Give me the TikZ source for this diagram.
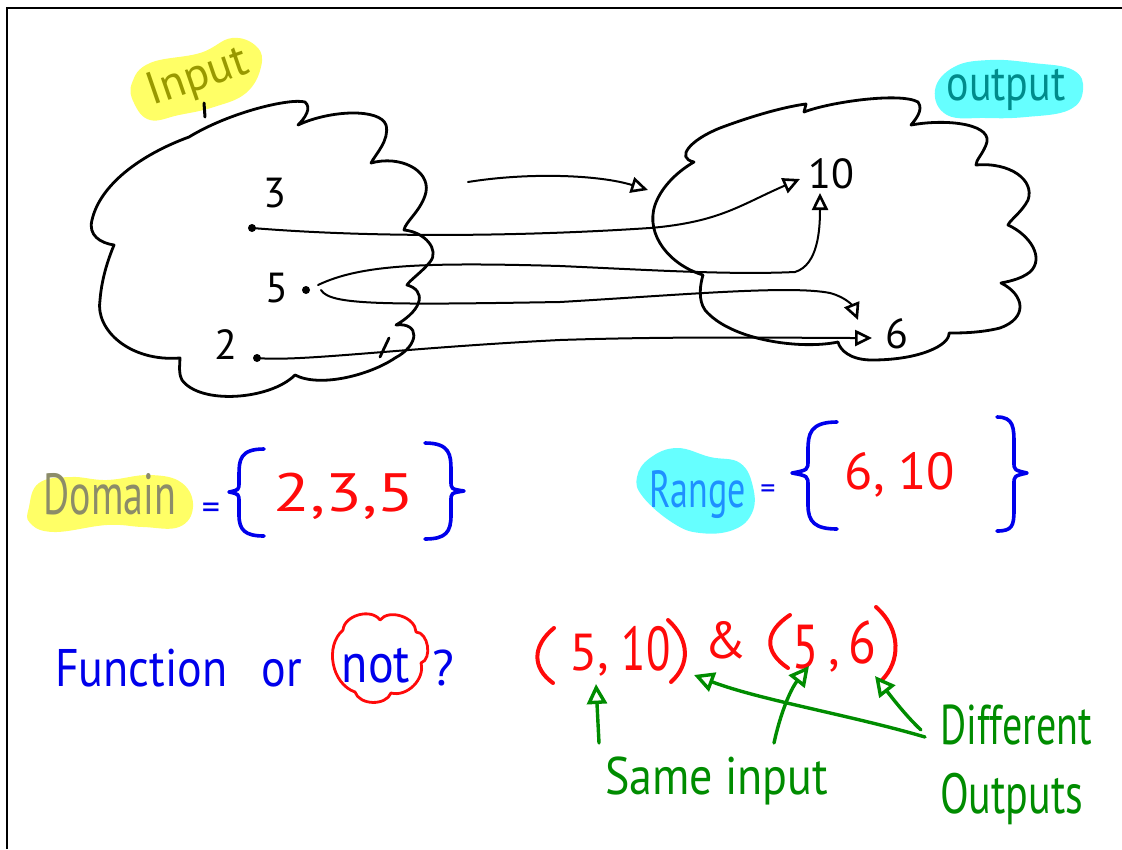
\documentclass[tikz,border=0pt]{standalone}
\usepackage{fontspec}
\setmainfont{PT Sans}
\usetikzlibrary{arrows.meta}
\definecolor{hlyellow}{RGB}{255,255,102}
\definecolor{hlcyan}{RGB}{102,255,255}
\definecolor{olivetxt}{RGB}{153,153,0}
\definecolor{domtxt}{RGB}{140,140,105}
\definecolor{tealtxt}{RGB}{0,139,139}
\definecolor{rangetxt}{RGB}{30,144,255}
\definecolor{penblue}{RGB}{0,0,235}
\definecolor{penred}{RGB}{255,10,10}
\definecolor{pengreen}{RGB}{0,140,0}
\newcommand{\fs}[1]{\fontsize{#1}{#1}\selectfont}
\begin{document}
\begin{tikzpicture}[x=1pt,y=-1pt,
  cloudline/.style={draw=black,line width=2.8pt,line join=round,line cap=round},
  conn/.style={draw=black,line width=2pt,line cap=round,-{Triangle[open,length=17pt,width=16pt,line width=2.6pt]}},
  gconn/.style={draw=pengreen,line width=3.4pt,line cap=round,-{Triangle[open,length=20pt,width=20pt,line width=3.4pt]}},
  num/.style={inner sep=0pt,font=\fs{42}},
  hw/.style={inner sep=0pt},
  brace/.style={draw=penblue,line width=3.6pt,line cap=round,line join=round},
  paren/.style={draw=penred,line width=4pt,line cap=round},
  redcloud/.style={draw=penred,line width=2.8pt,line join=round,line cap=round},
]
\useasboundingbox (0,0) rectangle (1122,849);
% frame
\draw[line width=2.2pt] (7,849) -- (7,8) -- (1122,8);

% highlights
\fill[hlyellow] plot[smooth cycle, tension=0.7] coordinates {(132,83) (150,63) (200,53) (232,38) (257,47) (261,67) (246,93) (214,107) (179,115) (150,120) (134,103)};
\fill[hlcyan] plot[smooth cycle, tension=0.7] coordinates {(935,90) (954,67) (990,60) (1033,63) (1073,70) (1083,90) (1069,110) (1026,117) (986,118) (947,115)};
\fill[hlyellow] plot[smooth cycle, tension=0.7] coordinates {(29,507) (39,483) (71,477) (107,480) (150,475) (182,483) (193,507) (179,527) (143,527) (107,525) (54,532) (30,523)};
\fill[hlcyan] plot[smooth cycle, tension=0.7] coordinates {(637,477) (650,458) (677,448) (710,457) (740,463) (753,487) (752,513) (733,530) (700,533) (673,523) (643,497)};

% labels
\node[hw,text=olivetxt,rotate=19,font=\fs{46}] (inlbl) at (198,78) {Input};
\node[hw,text=tealtxt,font=\fs{42}] (outlbl) at (1006,90) {\scalebox{1}[1.2]{output}};

% input cloud
\draw[cloudline] (189,137) .. controls (230,112) and (290,98) .. (305,102)
  .. controls (312,108) and (305,118) .. (298,125)
  .. controls (330,110) and (380,108) .. (386,125) .. controls (390,140) and (375,155) .. (371,163)
  .. controls (400,155) and (430,170) .. (426,192) .. controls (422,210) and (405,222) .. (404,230)
  .. controls (425,232) and (440,250) .. (430,262) .. controls (422,272) and (410,280) .. (407,285)
  .. controls (425,290) and (425,308) .. (396,325)
  .. controls (420,322) and (420,345) .. (395,358) .. controls (370,375) and (320,388) .. (295,375)
  .. controls (270,400) and (200,405) .. (182,380) .. controls (178,372) and (180,365) .. (180,358)
  .. controls (130,362) and (95,330) .. (100,300) .. controls (102,275) and (110,255) .. (114,245)
  .. controls (100,243) and (88,235) .. (92,220) .. controls (100,185) and (140,155) .. (189,137);
\draw[cloudline] (389,338) -- (380,357);
\draw[cloudline,line width=3pt] (204,103) -- (205,117);

% output cloud
\draw[cloudline] (694,162) .. controls (675,158) and (690,140) .. (720,128)
  .. controls (760,113) and (790,106) .. (806,104) -- (804,112)
  .. controls (830,102) and (900,92) .. (918,102) .. controls (924,110) and (915,120) .. (911,125)
  .. controls (950,118) and (995,125) .. (986,145) .. controls (982,155) and (976,160) .. (976,165)
  .. controls (1010,162) and (1035,180) .. (1028,200) .. controls (1022,212) and (1010,220) .. (1008,225)
  .. controls (1030,235) and (1045,258) .. (1030,272) .. controls (1020,280) and (1005,282) .. (1001,283)
  .. controls (1025,295) and (1028,318) .. (1000,328) .. controls (980,333) and (960,333) .. (949,333)
  .. controls (950,345) and (920,360) .. (872,360) .. controls (850,360) and (840,350) .. (838,342)
  .. controls (800,350) and (730,340) .. (705,310) .. controls (698,300) and (700,285) .. (703,275)
  .. controls (670,265) and (645,235) .. (655,205) .. controls (662,185) and (680,170) .. (694,162);

% elements
\node[num] (n3) at (275,193) {3};
\node[num] (n5) at (277,288) {5};
\node[num] (n2) at (226,345) {2};
\node[num] (n10) at (831,174) {10};
\node[num] (n6) at (897,334) {6};
\coordinate (d3) at (252,228);
\coordinate (d5) at (306,290);
\coordinate (d2) at (257,358);
\fill (d3) circle (4);
\fill (d5) circle (4);
\fill (d2) circle (4);
\coordinate (s5a) at (318,285);
\coordinate (s5b) at (321,290);
\coordinate (t10a) at (800,179);
\coordinate (t10b) at (820,193);
\coordinate (t6a) at (858,320);
\coordinate (t6b) at (872,338);
\coordinate (fa1) at (468,182);
\coordinate (fa2) at (648,190);

\draw[conn] (fa1) .. controls (530,172) and (600,175) .. (fa2);
\draw[conn] (d3) .. controls (400,240) and (560,234) .. (650,228) .. controls (720,222) and (740,205) .. (t10a);
\draw[conn] (s5a) .. controls (360,265) and (420,262) .. (560,266) .. controls (650,270) and (730,275) .. (795,272) .. controls (818,265) and (820,230) .. (t10b);
\draw[conn] (s5b) .. controls (330,305) and (380,305) .. (560,302) .. controls (680,295) and (790,285) .. (830,293) .. controls (845,297) and (852,305) .. (t6a);
\draw[conn] (d2) .. controls (300,362) and (400,348) .. (560,340) .. controls (680,336) and (800,338) .. (t6b);

% domain
\node[hw,text=domtxt,font=\fs{40}] (dom) at (110,494) {\scalebox{1}[1.45]{Domain}};
\node[hw,text=penblue,font=\fs{36}] (deq) at (211,511) {=};
\draw[brace] (264,449) .. controls (240,449) and (239,460) .. (239,475) -- (239,482) .. controls (239,490) .. (229,492) .. controls (239,494) .. (239,502) -- (239,515) .. controls (239,530) and (245,536) .. (264,536);
\node[hw,anchor=base,text=penred,font=\fs{54}] (dvals) at (344,511) {\scalebox{1.25}[1]{2,3,5}};
\draw[brace] (425,443) .. controls (450,443) and (451,455) .. (451,470) -- (451,481) .. controls (451,489) .. (464,491) .. controls (451,493) .. (451,501) -- (451,515) .. controls (451,532) and (446,539) .. (425,539);

% range
\node[hw,text=rangetxt,font=\fs{36}] (rng) at (698,495) {\scalebox{1}[1.45]{Range}};
\node[hw,text=penblue,font=\fs{30}] (req) at (768,492) {=};
\draw[brace] (837,422) .. controls (810,422) and (808,434) .. (808,450) -- (808,460) .. controls (808,470) .. (792,473) .. controls (808,476) .. (808,486) -- (808,505) .. controls (808,522) and (815,529) .. (837,529);
\node[hw,anchor=base,text=penred,font=\fs{52}] (rvals) at (900,489) {6, 10};
\draw[brace] (997,417) .. controls (1014,417) and (1014,428) .. (1014,445) -- (1014,462) .. controls (1014,470) .. (1027,473) .. controls (1014,476) .. (1014,484) -- (1014,510) .. controls (1014,526) and (1012,531) .. (997,531);

% function or not
\node[hw,anchor=base west,text=penblue,font=\fs{46}] (fun) at (55,686) {\scalebox{1}[1.15]{Function\hspace{0.75em}or}};
\draw[redcloud] (343,630) to[bend left=70] (380,620) to[bend left=70] (416,632)
  to[bend left=80] (421,663) to[bend left=60] (391,693) to[bend left=70] (355,692)
  to[bend left=60] (343,630);
\node[hw,anchor=base,text=penblue,font=\fs{48}] (nott) at (376,682) {\scalebox{1}[1.15]{not}};
\node[hw,anchor=base,text=penblue,font=\fs{50}] (qm) at (443,685) {?};

% pairs
\draw[paren] (554,628) .. controls (532,646) and (532,668) .. (553,683);
\node[hw,anchor=base,text=penred,font=\fs{52}] (pa5) at (584,670) {5};
\node[hw,anchor=base,text=penred,font=\fs{52}] (pacomma) at (603,668) {,};
\node[hw,anchor=base,text=penred,font=\fs{62}] (pa10) at (646,670) {\scalebox{0.72}[1]{10}};
\draw[paren] (668,620) .. controls (690,640) and (690,665) .. (671,682);
\node[hw,text=penred,font=\fs{52}] (amp) at (726,640) {\&};
\draw[paren] (790,615) .. controls (764,632) and (764,652) .. (788,668);
\node[hw,anchor=base,text=penred,font=\fs{62}] (pb5) at (806,668) {\scalebox{0.78}[1]{5}};
\node[hw,anchor=base,text=penred,font=\fs{52}] (pbcomma) at (834,664) {,};
\node[hw,anchor=base,text=penred,font=\fs{60}] (pb6) at (862,663) {\scalebox{0.85}[1]{6}};
\draw[paren] (876,607) .. controls (902,630) and (900,662) .. (882,680);

% green notes
\node[hw,anchor=base west,text=pengreen,font=\fs{46}] (same) at (605,794) {\scalebox{1}[1.15]{Same input}};
\node[hw,anchor=base west,text=pengreen,font=\fs{40}] (diff) at (940,744) {\scalebox{1}[1.4]{Different}};
\node[hw,anchor=base west,text=pengreen,font=\fs{42}] (outs) at (940,813) {\scalebox{1}[1.35]{Outputs}};
\coordinate (g1s) at (599,743);
\coordinate (g1t) at (596,684);
\coordinate (g2s) at (774,743);
\coordinate (g2t) at (809,666);
\coordinate (g3s) at (925,737);
\coordinate (g3t) at (694,675);
\coordinate (g4s) at (921,730);
\coordinate (g4t) at (875,676);
\draw[gconn] (g1s) -- (g1t);
\draw[gconn] (g2s) .. controls (780,715) and (790,690) .. (g2t);
\draw[gconn] (g3s) .. controls (850,715) and (760,700) .. (g3t);
\draw[gconn] (g4s) .. controls (905,715) and (890,695) .. (g4t);
\end{tikzpicture}
\end{document}
